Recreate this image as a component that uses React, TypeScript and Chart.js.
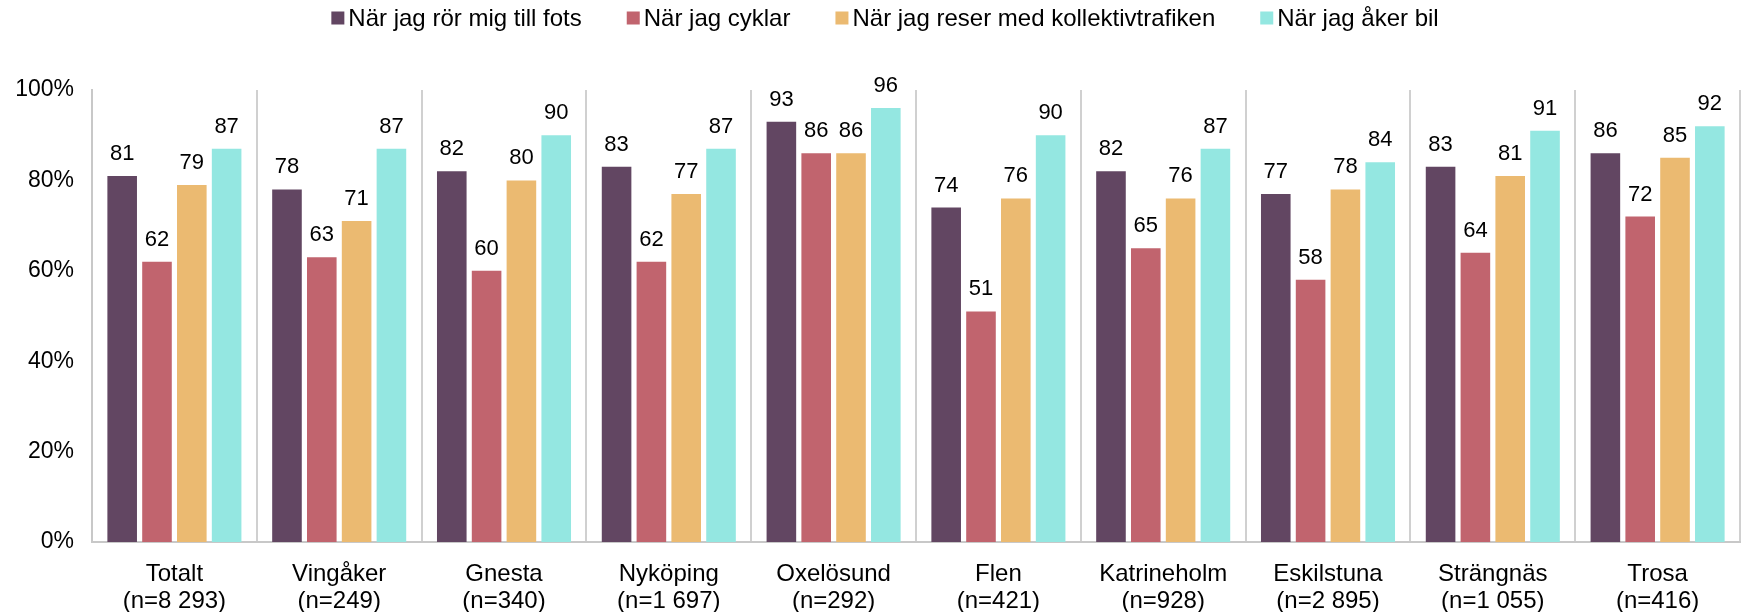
import React, { useEffect, useRef } from "react";
import { Chart, registerables } from "chart.js";

Chart.register(...registerables);

const categories: string[][] = [
  ["Totalt", "(n=8 293)"],
  ["Vingåker", "(n=249)"],
  ["Gnesta", "(n=340)"],
  ["Nyköping", "(n=1 697)"],
  ["Oxelösund", "(n=292)"],
  ["Flen", "(n=421)"],
  ["Katrineholm", "(n=928)"],
  ["Eskilstuna", "(n=2 895)"],
  ["Strängnäs", "(n=1 055)"],
  ["Trosa", "(n=416)"],
];

const seriesNames = [
  "När jag rör mig till fots",
  "När jag cyklar",
  "När jag reser med kollektivtrafiken",
  "När jag åker bil",
];

const walkValues = [81, 78, 82, 83, 93, 74, 82, 77, 83, 86];
const bikeValues = [62, 63, 60, 62, 86, 51, 65, 58, 64, 72];
const transitValues = [79, 71, 80, 77, 86, 76, 76, 78, 81, 85];
const carValues = [87, 87, 90, 87, 96, 90, 87, 84, 91, 92];

const seriesColors = ["#624662", "#C1646E", "#EBBA71", "#94E7E1"];

const yTicks = [0, 20, 40, 60, 80, 100];

const FONT = "'Liberation Sans', Arial, sans-serif";

const dataLabelPlugin = {
  id: "dataLabels",
  afterDatasetsDraw(chart: any) {
    const ctx = chart.ctx;
    ctx.save();
    ctx.font = `22px ${FONT}`;
    ctx.fillStyle = "#000";
    ctx.textAlign = "center";
    ctx.textBaseline = "alphabetic";
    chart.data.datasets.forEach((ds: any, i: number) => {
      const meta = chart.getDatasetMeta(i);
      meta.data.forEach((el: any, j: number) => {
        ctx.fillText(String(ds.data[j]), el.x, el.y - 16);
      });
    });
    ctx.restore();
  },
};

const customLegendPlugin = {
  id: "customLegend",
  afterDraw(chart: any) {
    const ctx = chart.ctx;
    const box = 13;
    const boxGap = 4;
    const itemGap = 45;
    ctx.save();
    ctx.font = `24px ${FONT}`;
    ctx.textBaseline = "middle";
    ctx.textAlign = "left";
    const items = chart.data.datasets.map((ds: any) => ({
      text: ds.label as string,
      color: ds.backgroundColor as string,
      w: ctx.measureText(ds.label).width,
    }));
    const total =
      items.reduce((s: number, it: any) => s + box + boxGap + it.w, 0) +
      itemGap * (items.length - 1);
    let x = chart.width / 2 + 12 - total / 2;
    const cy = 18;
    items.forEach((it: any) => {
      ctx.fillStyle = it.color;
      ctx.fillRect(x, cy - box / 2, box, box);
      ctx.fillStyle = "#000";
      ctx.fillText(it.text, x + box + boxGap, cy + 1);
      x += box + boxGap + it.w + itemGap;
    });
    ctx.restore();
  },
};

export default function App() {
  const canvasRef = useRef<HTMLCanvasElement | null>(null);

  useEffect(() => {
    document.body.style.margin = "0";
    const canvas = canvasRef.current;
    if (!canvas) return;
    const chart = new Chart(canvas, {
      type: "bar",
      data: {
        labels: categories,
        datasets: [walkValues, bikeValues, transitValues, carValues].map((d, i) => ({
          label: seriesNames[i],
          data: d,
          backgroundColor: seriesColors[i],
          borderWidth: 0,
          categoryPercentage: 0.845,
          barPercentage: 0.85,
        })),
      },
      options: {
        responsive: false,
        animation: false,
        devicePixelRatio: 1,
        layout: { padding: { top: 90, right: 6, bottom: 0, left: 0 } },
        plugins: {
          tooltip: { enabled: false },
          legend: { display: false },
        },
        scales: {
          x: {
            grid: {
              display: true,
              offset: true,
              drawTicks: false,
              color: "#d0d0d0",
              lineWidth: 2,
            },
            border: { display: true, color: "#c8c8c8", width: 2 },
            ticks: {
              color: "#000",
              padding: 19,
              maxRotation: 0,
              autoSkip: false,
              font: { family: FONT, size: 24, lineHeight: 1.13 },
            },
            afterFit(scale: any) {
              scale.height = 70;
            },
          },
          y: {
            min: 0,
            max: 100,
            afterBuildTicks(scale: any) {
              scale.ticks = yTicks.map((v) => ({ value: v }));
            },
            grid: { display: false, drawTicks: false },
            border: { display: true, color: "#c8c8c8", width: 2 },
            ticks: {
              color: "#000",
              padding: 18,
              font: { family: FONT, size: 23 },
              callback: (v: any) => `${v}%`,
            },
            afterFit(scale: any) {
              scale.width = 92;
            },
          },
        },
      },
      plugins: [dataLabelPlugin, customLegendPlugin],
    });
    return () => chart.destroy();
  }, []);

  return (
    <div style={{ width: 1746, height: 612 }}>
      <canvas ref={canvasRef} width={1746} height={612} style={{ display: "block" }} />
    </div>
  );
}
